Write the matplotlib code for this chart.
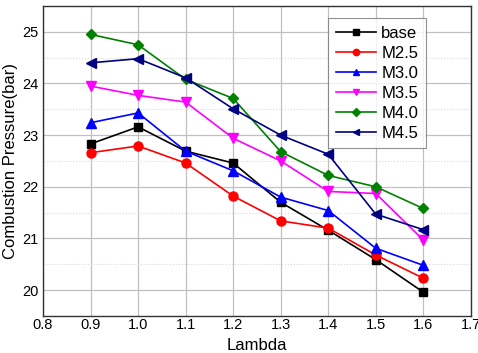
import matplotlib
matplotlib.use('Agg')
import matplotlib.pyplot as plt
from matplotlib.ticker import MultipleLocator

plt.rcParams['font.family'] = ['Liberation Sans', 'DejaVu Sans']

# lambda values
lam = [0.9, 1.0, 1.1, 1.2, 1.3, 1.4, 1.5, 1.6]

# combustion pressure (bar)
base = [22.83, 23.16, 22.69, 22.46, 21.70, 21.16, 20.59, 19.96]
m25 = [22.66, 22.79, 22.46, 21.82, 21.34, 21.20, 20.68, 20.23]
m30 = [23.24, 23.43, 22.69, 22.31, 21.80, 21.54, 20.81, 20.48]
m35 = [23.95, 23.77, 23.64, 22.94, 22.50, 21.91, 21.87, 20.97]
m40 = [24.95, 24.75, 24.08, 23.71, 22.68, 22.22, 22.00, 21.58]
m45 = [24.40, 24.48, 24.11, 23.51, 23.00, 22.63, 21.47, 21.17]

series = [
    ('base', base, 'black', 's'),
    ('M2.5', m25, 'red', 'o'),
    ('M3.0', m30, 'blue', '^'),
    ('M3.5', m35, 'magenta', 'v'),
    ('M4.0', m40, 'green', 'D'),
    ('M4.5', m45, 'navy', '<'),
]

fig, ax = plt.subplots(figsize=(4.78, 3.53), dpi=100)
fig.subplots_adjust(left=0.09, right=0.985, top=0.983, bottom=0.105)

for name, vals, col, mk in series:
    ms = 5.5 if mk in ('s', 'D') else 6.5
    ax.plot(lam, vals, color=col, marker=mk, markersize=ms, linewidth=1.2, label=name)

ax.set_xlim(0.8, 1.7)
ax.set_ylim(19.5, 25.5)
ax.xaxis.set_major_locator(MultipleLocator(0.1))
ax.yaxis.set_major_locator(MultipleLocator(1))
ax.yaxis.set_minor_locator(MultipleLocator(0.5))
ax.xaxis.set_major_formatter(plt.FuncFormatter(lambda v, p: f'{v:.1f}'))

ax.grid(which='major', color='#c0c0c0', linewidth=0.9)
ax.grid(which='minor', axis='y', color='#d8d8d8', linestyle=':', linewidth=0.8)
ax.set_axisbelow(True)
ax.tick_params(which='both', length=0, labelsize=10.5)
ax.tick_params(axis='x', pad=1.5)
ax.tick_params(axis='y', pad=3)

for s in ax.spines.values():
    s.set_color('#333333')
    s.set_linewidth(1.0)

ax.set_xlabel('Lambda', fontsize=12, labelpad=4)
ax.set_ylabel('Combustion Pressure(bar)', fontsize=12, labelpad=3)

leg = ax.legend(loc='upper right', bbox_to_anchor=(0.895, 0.961), borderaxespad=0,
                fontsize=12, fancybox=False, edgecolor='#777777', handlelength=2.4,
                labelspacing=0.3, borderpad=0.45, handletextpad=0.35, markerscale=0.7)
leg.get_frame().set_linewidth(0.8)

fig.savefig('out.png', dpi=100)
